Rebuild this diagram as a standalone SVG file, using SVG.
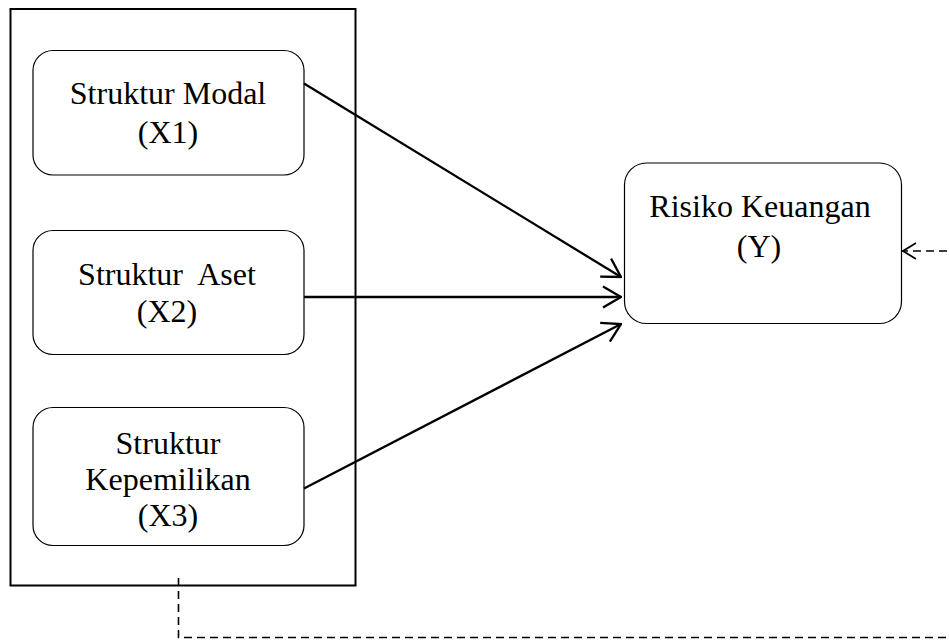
<svg xmlns="http://www.w3.org/2000/svg" width="949" height="640" viewBox="0 0 949 640">
  <style>
    .node rect { fill: #ffffff; stroke: #000000; stroke-width: 1.2; }
    .label { font-family: "Liberation Serif", "Times New Roman", serif; font-size: 32px; fill: #000000; text-anchor: middle; }
    .solid { fill: none; stroke: #000000; stroke-width: 2.3; }
    .dash { fill: none; stroke: #000000; stroke-width: 1.6; stroke-dasharray: 8 5; }
  </style>
  <defs>
    <marker id="open" markerUnits="userSpaceOnUse" viewBox="0 0 20 24" refX="19" refY="12" markerWidth="20" markerHeight="24" orient="auto">
      <path d="M1,1.5 L19,12 L1,22.5" fill="none" stroke="#000" stroke-width="2.3"/>
    </marker>
    <marker id="openSmall" markerUnits="userSpaceOnUse" viewBox="0 0 16 20" refX="15" refY="10" markerWidth="16" markerHeight="20" orient="auto">
      <path d="M1.5,2 L14.5,10 L1.5,18" fill="none" stroke="#000" stroke-width="1.8"/>
    </marker>
  </defs>
  <rect width="949" height="640" fill="#ffffff"/>

  <g id="group-x">
    <rect x="10.5" y="9" width="345" height="576.5" fill="none" stroke="#000" stroke-width="2"/>
  </g>

  <g id="x1" class="node">
    <rect x="33" y="50.5" width="271" height="124.5" rx="20" ry="20"/>
    <text class="label" x="168" y="104">Struktur Modal</text>
    <text class="label" x="168" y="143">(X1)</text>
  </g>

  <g id="x2" class="node">
    <rect x="33" y="230.5" width="271" height="124" rx="20" ry="20"/>
    <text class="label" x="167" y="285" xml:space="preserve">Struktur  Aset</text>
    <text class="label" x="167" y="322">(X2)</text>
  </g>

  <g id="x3" class="node">
    <rect x="33" y="407.5" width="271" height="138" rx="20" ry="20"/>
    <text class="label" x="168" y="454">Struktur</text>
    <text class="label" x="168" y="490">Kepemilikan</text>
    <text class="label" x="168" y="526">(X3)</text>
  </g>

  <g id="y" class="node">
    <rect x="624.5" y="163" width="277" height="160.5" rx="22" ry="22"/>
    <text class="label" x="760" y="217">Risiko Keuangan</text>
    <text class="label" x="759" y="257">(Y)</text>
  </g>

  <g id="connectors">
    <line class="solid" x1="304" y1="83.5" x2="621" y2="277" marker-end="url(#open)"/>
    <line class="solid" x1="304" y1="297" x2="621" y2="297" marker-end="url(#open)"/>
    <line class="solid" x1="304" y1="488.5" x2="621" y2="324" marker-end="url(#open)"/>
    <path class="dash" d="M178.5,578 L178.5,637.5 L960,637.5"/>
    <line class="dash" x1="960" y1="251" x2="902.5" y2="251" marker-end="url(#openSmall)"/>
  </g>
</svg>
